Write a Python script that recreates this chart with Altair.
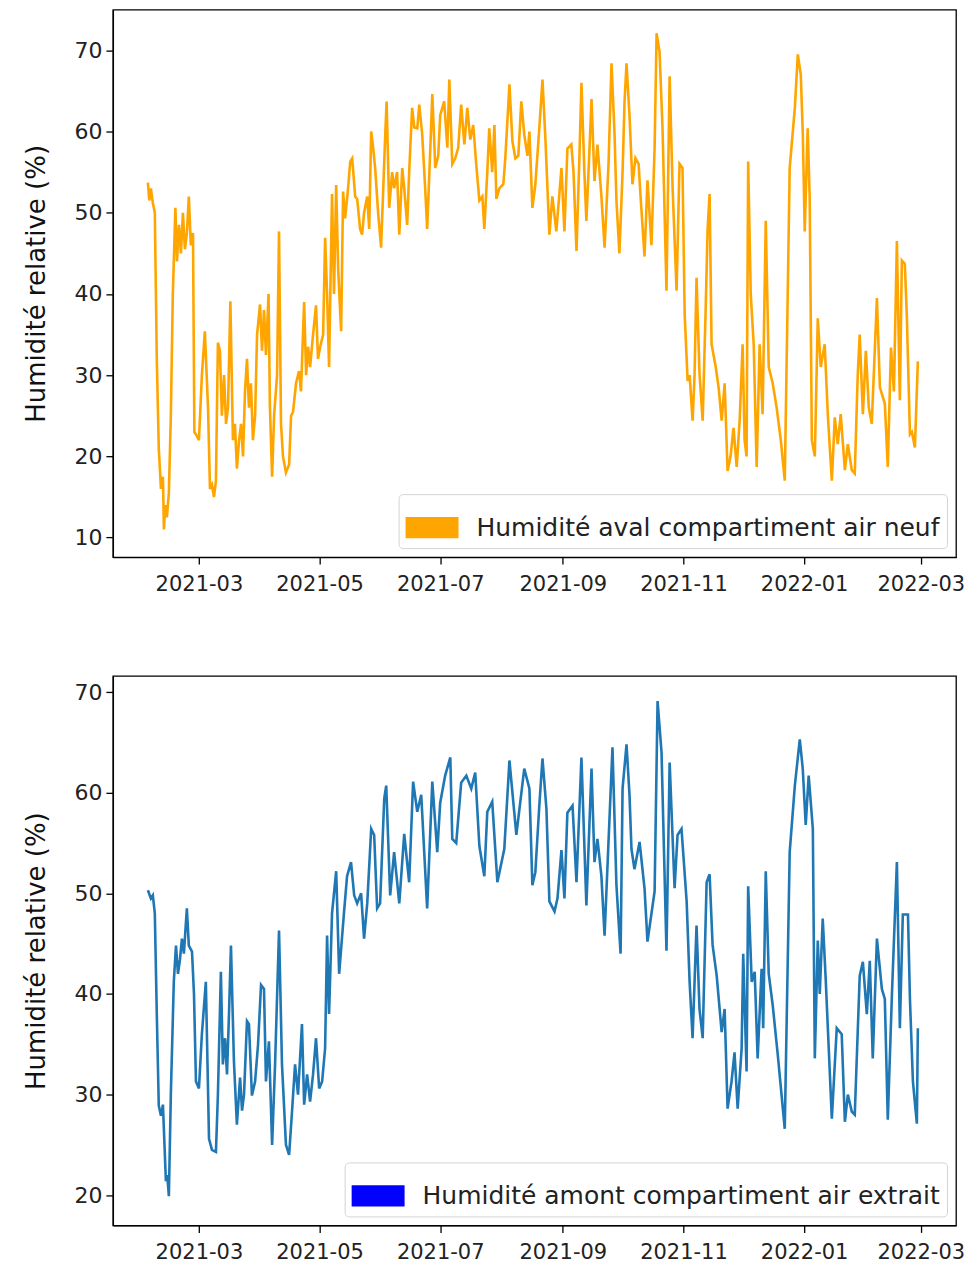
import altair as alt
import pandas as pd

START = "2021-02-01"
SERIES_TOP = "Humidité aval compartiment air neuf"
SERIES_BOTTOM = "Humidité amont compartiment air extrait"
Y_TITLE = "Humidité relative (%)"

# days since START, and relative humidity (%) — top panel
DAYS_TOP = [
    2.2, 2.9, 3.7, 4.7, 5.7, 6.7, 7.7, 8.8, 9.8, 10.3,
    11.0, 11.8, 12.8, 13.8, 14.8, 16.1, 16.9, 17.9, 18.9, 19.9,
    20.9, 21.9, 22.9, 23.9, 25.0, 25.7, 27.0, 28.0, 29.5, 31.0,
    32.6, 33.6, 34.6, 35.6, 36.6, 37.6, 38.6, 39.6, 40.7, 41.7,
    42.7, 43.9, 45.2, 46.2, 47.2, 48.3, 49.3, 50.3, 51.3, 52.3,
    53.3, 54.3, 55.3, 56.4, 57.4, 58.9, 59.9, 60.9, 61.9, 63.2,
    63.9, 65.0, 66.0, 67.5, 68.5, 69.5, 70.5, 72.0, 73.6, 74.6,
    75.6, 77.1, 78.6, 79.6, 81.2, 82.2, 83.2, 84.2, 85.7, 87.2,
    88.2, 89.3, 90.8, 91.8, 92.8, 93.8, 95.3, 96.3, 97.4, 98.4,
    99.9, 100.9, 101.9, 103.4, 104.5, 105.5, 107.0, 108.0, 109.5, 110.5,
    111.5, 113.1, 114.1, 115.1, 116.1, 117.1, 118.6, 120.1, 121.2, 122.2,
    122.9, 124.2, 125.7, 126.7, 128.2, 129.3, 130.8, 131.8, 133.3, 134.3,
    135.8, 136.9, 138.4, 139.4, 140.9, 142.4, 143.4, 145.0, 146.0, 147.5,
    149.0, 150.0, 152.0, 153.6, 154.6, 156.1, 157.6, 159.1, 160.6, 162.2,
    163.7, 165.2, 166.7, 168.2, 169.8, 171.3, 172.3, 173.8, 174.8, 176.3,
    177.4, 178.4, 179.9, 181.9, 182.9, 185.0, 186.5, 188.0, 189.5, 191.0,
    192.5, 194.1, 195.1, 196.6, 198.1, 200.1, 201.7, 203.2, 205.2, 206.7,
    208.7, 211.3, 212.8, 214.3, 216.3, 217.4, 218.9, 220.4, 221.4, 222.9,
    223.9, 225.5, 226.5, 228.0, 229.5, 231.5, 233.1, 235.1, 236.6, 238.1,
    239.1, 240.6, 242.2, 243.2, 244.2, 245.7, 247.2, 248.7, 250.3, 251.3,
    253.3, 254.8, 256.8, 258.4, 259.4, 260.9, 262.4, 264.4, 266.0, 267.5,
    269.5, 271.0, 272.5, 273.6, 275.1, 276.1, 277.6, 278.6, 279.6, 281.1,
    282.7, 284.2, 285.2, 286.2, 287.2, 289.3, 290.8, 292.3, 293.8, 295.3,
    296.8, 298.3, 299.9, 301.4, 302.9, 303.9, 304.9, 305.7, 307.0, 308.5,
    310.0, 311.5, 313.0, 314.6, 316.1, 318.1, 320.1, 322.2, 324.2, 325.7,
    326.7, 329.3, 330.8, 332.3, 333.3, 334.3, 335.8, 336.8, 337.9, 339.4,
    340.9, 342.4, 344.4, 346.0, 348.0, 349.5, 351.0, 352.5, 354.6, 356.1,
    358.1, 359.6, 361.1, 362.1, 363.7, 365.2, 366.7, 368.2, 370.8, 372.3,
    374.8, 376.3, 377.9, 379.4, 380.9, 382.4, 383.4, 384.9, 385.9, 387.5,
    388.5, 390.0, 391.5,
]
HUM_TOP = [
    53.7, 51.5, 53, 51.2, 50, 32, 21, 16, 17.5, 11,
    14, 12.5, 15.5, 25, 40, 50.6, 44, 48.5, 45, 50,
    45.5, 47.5, 52, 46, 47.5, 23, 22.5, 22, 30, 35.4,
    26, 16, 16.5, 15, 17, 34, 33, 25, 30, 24,
    26, 39.1, 22, 24, 18.5, 22, 24, 20, 28, 32,
    26, 29, 22, 25, 35, 38.7, 33, 38, 32.5, 40,
    26, 17.5, 25, 30, 47.7, 24, 20, 18, 19, 25,
    25.5, 29, 30.5, 28, 39, 30, 33.5, 31, 35, 38.6,
    32, 33.5, 35, 46.9, 40, 31, 52.3, 40, 53.4, 43,
    35.4, 52.6, 49.3, 53, 56.3, 56.7, 52, 51.7, 48, 47.3,
    50, 52, 48, 60, 58, 55.5, 50, 45.7, 53, 59.6,
    63.7, 50.6, 55, 53, 55, 47.3, 55.5, 53, 48.5, 55,
    62.9, 60.5, 60.4, 63.3, 59.6, 53, 48, 58, 64.6, 55.5,
    57, 62, 63.7, 58, 66.4, 56, 56.7, 58, 63.3, 58.4,
    62.9, 59, 60.8, 56, 51.5, 52, 48, 55, 60.4, 55,
    60.8, 51.7, 53, 53.5, 56.7, 65.8, 58.8, 56.7, 57, 63.7,
    59.6, 57, 60, 50.6, 53.5, 60.4, 66.4, 59, 47.3, 52,
    47.7, 55.5, 47.7, 57.9, 58.4, 55, 45.3, 57, 66, 55,
    49, 58, 64, 53.9, 58.4, 52, 45.7, 56, 68.4, 60,
    51.5, 45, 55, 63.7, 68.4, 62, 53.5, 56.7, 56, 52,
    44.6, 54, 46, 58, 72.1, 69.8, 60.4, 40.4, 66.8, 53,
    40.4, 56, 55.5, 37.5, 29.3, 30, 24.4, 30, 42, 30.2,
    24.4, 38, 48, 52.3, 33.8, 31, 28.4, 24.4, 29, 18.2,
    20, 23.5, 18.7, 24.4, 33.8, 22, 20, 56.3, 40, 33.8,
    18.7, 33.8, 25.2, 49, 31, 29, 26, 22, 17, 40,
    55.5, 62.9, 69.5, 67, 60, 47.7, 60.4, 52, 22, 20,
    37, 31, 33.8, 25, 17, 24.8, 21.5, 25.2, 18.3, 21.5,
    18.3, 17.9, 30, 35, 25.2, 33, 26, 24, 39.5, 28.5,
    26.5, 18.7, 33.4, 28, 46.5, 26.9, 44.1, 43.7, 37.5, 22.7,
    23, 21.1, 31.7,
]

# days since START, and relative humidity (%) — bottom panel
DAYS_BOTTOM = [
    2.2, 3.7, 4.7, 5.7, 6.7, 7.7, 8.8, 9.8, 11.3, 12.0,
    12.8, 13.8, 15.3, 16.4, 17.4, 18.4, 19.4, 20.4, 21.9, 22.9,
    24.5, 25.5, 26.5, 28.0, 29.5, 31.5, 33.1, 34.6, 36.6, 37.6,
    39.1, 40.1, 41.2, 42.2, 43.2, 44.2, 45.7, 47.2, 48.8, 49.8,
    50.8, 52.3, 53.3, 54.8, 56.4, 57.9, 59.4, 60.9, 61.9, 63.4,
    65.0, 66.5, 68.5, 70.0, 72.0, 73.6, 75.1, 76.6, 78.1, 80.1,
    81.2, 82.7, 84.2, 85.7, 87.2, 88.8, 90.3, 91.8, 92.8, 93.8,
    95.3, 97.4, 98.9, 101.4, 102.9, 104.9, 106.5, 108.0, 110.0, 111.5,
    113.1, 115.1, 116.6, 118.1, 119.6, 121.7, 122.7, 124.7, 126.7, 129.3,
    131.8, 134.3, 136.3, 138.4, 140.4, 143.4, 146.0, 148.5, 150.0, 152.5,
    155.1, 156.1, 158.1, 160.6, 163.2, 165.7, 167.7, 169.8, 172.3, 173.8,
    176.3, 178.9, 182.4, 185.0, 188.5, 192.5, 195.1, 196.6, 198.1, 200.1,
    201.7, 203.7, 205.2, 207.8, 209.3, 211.3, 212.8, 214.3, 216.9, 218.9,
    221.4, 223.9, 226.5, 228.0, 229.5, 231.5, 233.1, 237.1, 239.1, 241.2,
    242.2, 244.2, 245.7, 246.7, 248.2, 250.8, 253.3, 254.8, 258.4, 259.9,
    261.9, 264.4, 266.0, 268.5, 270.0, 272.0, 274.6, 276.1, 277.6, 279.6,
    281.1, 282.7, 284.7, 286.2, 287.7, 289.8, 292.3, 293.8, 295.3, 297.3,
    298.8, 300.4, 302.4, 303.2, 304.9, 305.7, 307.5, 309.0, 310.5, 312.5,
    313.3, 314.6, 316.1, 318.1, 320.7, 324.2, 326.7, 329.3, 331.8, 333.3,
    334.8, 336.3, 338.4, 339.4, 340.9, 341.9, 343.4, 344.9, 348.0, 350.5,
    353.0, 354.6, 356.1, 358.1, 359.6, 362.1, 363.7, 365.7, 367.2, 368.7,
    370.8, 373.3, 374.8, 376.3, 378.4, 380.9, 382.4, 383.9, 386.5, 387.5,
    389.0, 391.0, 391.5,
]
HUM_BOTTOM = [
    50.3, 49.5, 49.8, 48, 38, 28.9, 27.9, 29, 21.4, 22,
    19.9, 30, 41.2, 44.8, 42, 43.4, 45.5, 44, 48.5, 44.8,
    44.2, 40, 31.3, 30.6, 36, 41.2, 25.6, 24.5, 24.3, 30,
    42.2, 33, 35.6, 32, 38, 44.8, 33.3, 27, 31.7, 28.4,
    30, 37.3, 37, 29.9, 31.3, 35, 40.9, 40.5, 31.3, 35.3,
    25, 33, 46.3, 33, 25, 24, 28.4, 33, 30, 37,
    29, 32, 29.3, 32, 35.6, 30.6, 31.3, 34.6, 45.8, 38,
    48, 52.2, 42, 48.2, 51.7, 53.1, 49.8, 49, 50, 45.5,
    49, 56.4, 55.8, 48.5, 49, 59.4, 60.7, 49.8, 54.1, 49,
    55.9, 51.1, 61.1, 58.1, 59.8, 48.5, 61.1, 54.1, 59, 61.7,
    63.5, 55.4, 55, 61, 61.7, 60.4, 62, 54.7, 51.7, 58.1,
    59.1, 51.1, 54.4, 63.2, 55.8, 62.4, 60.4, 50.8, 52.1, 58.7,
    63.4, 58.4, 49.2, 48.2, 49.5, 54.3, 49.5, 58, 58.7, 51.1,
    63.5, 48.8, 62.4, 53.1, 55.4, 51.7, 45.8, 64.5, 50.8, 44,
    60.4, 64.8, 59.8, 54.4, 52.4, 55.1, 50.5, 45.2, 50.2, 69.1,
    64, 44.3, 63, 50.5, 55.8, 56.4, 49.2, 41.2, 35.6, 46.8,
    38.5, 35.6, 51.1, 51.9, 44.9, 41.8, 36.2, 38.5, 28.6, 31.3,
    34.2, 28.6, 34.6, 44, 32.3, 50.7, 41.2, 42.2, 33.6, 42.5,
    36.6, 52.2, 42, 38.9, 33.9, 26.6, 54.1, 60.7, 65.3, 62.4,
    56.8, 61.7, 56.4, 33.6, 45.3, 40, 47.5, 41.5, 27.6, 36.6,
    36, 27.3, 30, 28.3, 28, 41.8, 43.2, 38, 43.3, 33.6,
    45.5, 40.5, 39.5, 27.5, 40, 53.1, 36.6, 47.9, 47.9, 39.5,
    31.3, 27.1, 36.6,
]

X_TICKS = [(2021, 3), (2021, 5), (2021, 7), (2021, 9), (2021, 11), (2022, 1), (2022, 3)]
Y_TICKS_TOP = [10, 20, 30, 40, 50, 60, 70]
Y_TICKS_BOTTOM = [20, 30, 40, 50, 60, 70]

FONT = "DejaVu Sans"
X_DOMAIN = [alt.DateTime(year=2021, month=1, date=16, hours=12),
            alt.DateTime(year=2022, month=3, date=18, hours=19)]
x_tick_values = [alt.DateTime(year=y, month=m, date=1) for y, m in X_TICKS]

LEGEND_SHAPE = "M-1,-0.4H1V0.4H-1Z"


def make_df(days, hum, name):
    dates = pd.Timestamp(START) + pd.to_timedelta(days, unit="D")
    return pd.DataFrame({
        "date": dates.strftime("%Y-%m-%dT%H:%M:%S"),
        "hum": hum,
        "serie": name,
    })


def panel(days, hum, name, line_color, legend_color, ydom, yticks, height):
    df = make_df(days, hum, name)
    base = alt.Chart(df).encode(
        x=alt.X("date:T",
                scale=alt.Scale(domain=X_DOMAIN, nice=False),
                axis=alt.Axis(values=x_tick_values, format="%Y-%m", title=None,
                              labelFlush=False, labelOverlap=False,
                              labelPadding=9, labelFontSize=21)),
        y=alt.Y("hum:Q",
                scale=alt.Scale(domain=ydom, nice=False, zero=False),
                axis=alt.Axis(values=yticks, title=Y_TITLE)),
    )
    line = base.mark_line(strokeWidth=2.6, clip=True, color=line_color)
    # legend carrier: filled symbol layer with no rows drawn
    legend_layer = base.transform_filter("false").mark_point(
        filled=True, opacity=1, shape=LEGEND_SHAPE
    ).encode(
        color=alt.Color("serie:N",
                        scale=alt.Scale(domain=[name], range=[legend_color]),
                        legend=alt.Legend(
                            title=None, orient="bottom-right", offset=9,
                            labelFont=FONT, labelFontSize=25, labelColor="#222",
                            labelLimit=1000, labelOffset=18,
                            symbolType=LEGEND_SHAPE, symbolSize=2809,
                            symbolStrokeWidth=0, symbolOpacity=1,
                            fillColor="white", cornerRadius=4,
                        )),
    )
    return alt.layer(line, legend_layer).properties(width=844, height=height)


top = panel(DAYS_TOP, HUM_TOP, SERIES_TOP, "#ffa500", "#ffa500",
            [7.6, 75.0], Y_TICKS_TOP, 548)
bottom = panel(DAYS_BOTTOM, HUM_BOTTOM, SERIES_BOTTOM, "#1f77b4", "#0000ff",
               [17.0, 71.6], Y_TICKS_BOTTOM, 550)

chart = alt.vconcat(top, bottom, spacing=80).resolve_scale(color="independent").properties(
    padding={"left": 15, "top": 0, "right": 0, "bottom": 4},
    background="white",
).configure_view(
    stroke="black", strokeWidth=1.3,
).configure_axis(
    grid=False, domainColor="black", domainWidth=1.3,
    tickColor="black", tickSize=7, tickWidth=1.3,
    labelFont=FONT, labelFontSize=22, labelColor="#222", labelPadding=4,
    titleFont=FONT, titleFontSize=26, titleFontWeight="normal", titleColor="#111",
    titlePadding=24,
).configure_legend(
    padding=7, strokeColor="#d4d4d4",
)

chart.save("out.html", embed_options={"renderer": "svg", "actions": False})
